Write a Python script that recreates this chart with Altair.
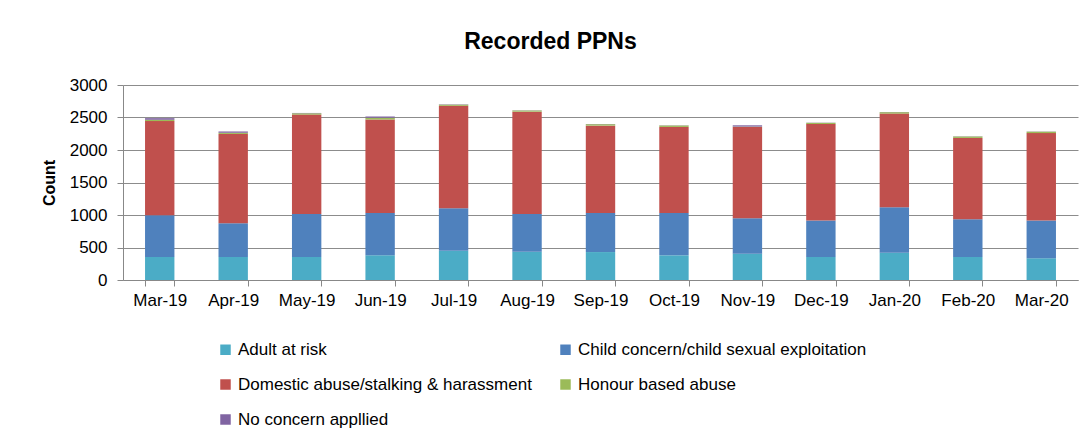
import altair as alt
import pandas as pd

months = ["Mar-19", "Apr-19", "May-19", "Jun-19", "Jul-19", "Aug-19", "Sep-19",
          "Oct-19", "Nov-19", "Dec-19", "Jan-20", "Feb-20", "Mar-20"]
categories = ["Adult at risk", "Child concern/child sexual exploitation",
              "Domestic abuse/stalking & harassment", "Honour based abuse",
              "No concern appllied"]
colors = ["#4BACC6", "#4F81BD", "#C0504D", "#9BBB59", "#8064A2"]

adult = [355, 355, 355, 380, 450, 435, 430, 380, 405, 355, 420, 355, 335]
child = [640, 520, 660, 650, 655, 580, 600, 650, 545, 560, 700, 578, 580]
domestic = [1450, 1372, 1530, 1440, 1575, 1575, 1345, 1325, 1405, 1485, 1440, 1253, 1345]
honour = [20, 18, 20, 25, 18, 18, 22, 22, 5, 18, 22, 22, 22]
noconcern = [25, 20, 5, 22, 5, 3, 3, 3, 20, 3, 3, 3, 3]

series = [adult, child, domestic, honour, noconcern]
rows = []
for ci, (cat, vals) in enumerate(zip(categories, series)):
    for m, v in zip(months, vals):
        rows.append({"Month": m, "Category": cat, "Count": v, "idx": ci})
df = pd.DataFrame(rows)

FONT = "Liberation Sans"

chart = alt.Chart(df).mark_bar().encode(
    x=alt.X("Month:N", sort=months, title=None,
            scale=alt.Scale(paddingInner=0.6, paddingOuter=0.3),
            axis=alt.Axis(labelAngle=0, tickBand="extent", tickSize=6,
                          labelPadding=6, grid=False, domainColor="#888888",
                          tickColor="#888888", labelFontSize=17,
                          labelColor="#000000", labelFont=FONT)),
    y=alt.Y("Count:Q", title="Count",
            scale=alt.Scale(domain=[0, 3000]),
            axis=alt.Axis(values=[0, 500, 1000, 1500, 2000, 2500, 3000],
                          format="d",
                          tickSize=6, labelPadding=10, domainColor="#888888",
                          tickColor="#888888", gridColor="#8c8c8c",
                          labelFontSize=17, labelColor="#000000",
                          labelFont=FONT, titleFont=FONT, titleFontSize=16,
                          titleFontWeight="bold", titleColor="#000000",
                          titlePadding=12)),
    color=alt.Color("Category:N",
                    scale=alt.Scale(domain=categories, range=colors),
                    legend=alt.Legend(title=None, orient="none",
                                      direction="horizontal",
                                      legendX=94, legendY=256, columns=2,
                                      symbolType="square", symbolSize=110,
                                      symbolStrokeWidth=0,
                                      labelFontSize=17, labelFont=FONT,
                                      labelColor="#000000", labelLimit=500,
                                      rowPadding=17, columnPadding=25,
                                      labelOffset=4,
                                      symbolOffset=0)),
    order=alt.Order("idx:Q", sort="ascending"),
).properties(
    width=955, height=195,
    title=alt.TitleParams("Recorded PPNs", fontSize=23, font=FONT,
                          fontWeight="bold", color="#000000",
                          offset=22, dx=-50, anchor="middle"),
    autosize=alt.AutoSizeParams(type="none"),
    padding={"left": 115, "top": 77, "right": 4, "bottom": 155},
).configure_view(stroke=None)

chart.save("out.html", embed_options={"renderer": "svg", "actions": False})
